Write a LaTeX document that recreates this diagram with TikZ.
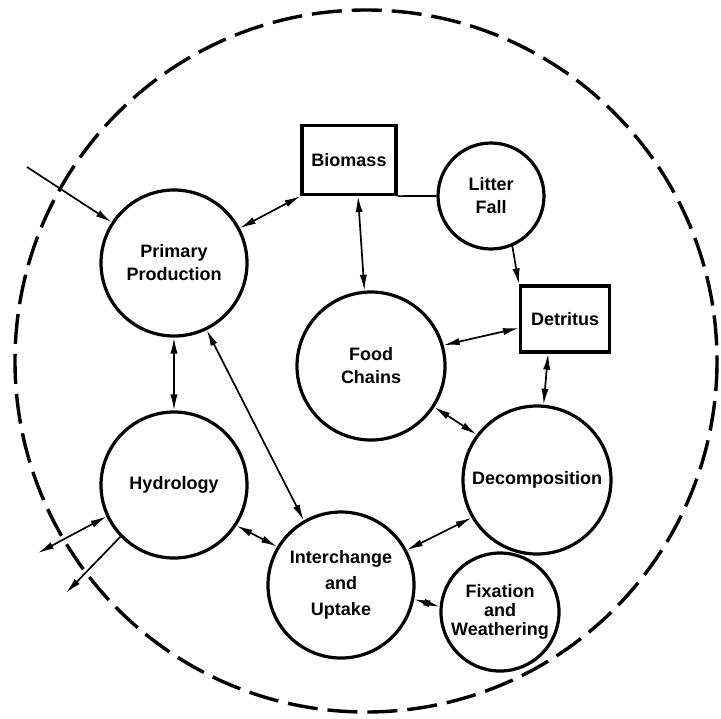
\documentclass[tikz,border=0pt]{standalone}
\usepackage{fontspec}
\setmainfont{Liberation Sans}
\usepackage{tikz}
\usetikzlibrary{arrows}
\usetikzlibrary{arrows.meta}
\usetikzlibrary{shapes}
\tikzset{>={Latex[length=8pt,width=3.6pt]}}
\tikzstyle{proc} = [circle, draw=black, line width=1.6pt, inner sep=0, align=center, font=\fontsize{9}{11.5}\selectfont\bfseries]
\tikzstyle{store} = [rectangle, draw=black, line width=1.6pt, inner sep=0, align=center, font=\fontsize{9}{11.5}\selectfont\bfseries]
\tikzstyle{flow} = [line width=0.85pt]

\begin{document}
\begin{tikzpicture}[x=0.5pt, y=-0.5pt]
\useasboundingbox (0,0) rectangle (721,718);
\draw [line width=1.7pt, dash pattern=on 15pt off 5pt] (366,361) circle [radius=351];
\node [proc, minimum size=73pt] (PP) at (174,263) {Primary\\Production};
\node [store, minimum width=47pt, minimum height=34.5pt] (B) at (349,160) {Biomass};
\node [proc, minimum size=53pt] (LF) at (491,196) {Litter\\Fall};
\node [store, minimum width=44.5pt, minimum height=33pt] (Det) at (565,319) {Detritus};
\node [proc, minimum size=74pt] (FC) at (371,366) {Food\\Chains};
\node [proc, minimum size=74pt] (Dec) at (537,480) {Decomposition};
\node [proc, minimum size=73pt] (Hyd) at (174,485) {Hydrology};
\node [proc, minimum size=73pt, font=\fontsize{9}{13}\selectfont\bfseries] (IU) at (341,585) {Interchange\\and\\Uptake};
\node [proc, minimum size=59pt, font=\fontsize{9}{9.5}\selectfont\bfseries] (FW) at (500,612) {Fixation\\and\\Weathering};
\coordinate (in) at (27,167);
\coordinate (out1) at (38,553);
\coordinate (out2) at (66,593);
\draw [flow, ->] (in) -- (PP);
\draw [flow, <->] (PP) -- (B.south west);
\draw [flow] (B.south east) -- (LF);
\draw [flow, <->] (B.-76) -- (FC.95);
\draw [flow, ->] (LF.-67) -- (Det.north west);
\draw [flow, <->] (Det.-169) -- (FC.16);
\draw [flow, <->] (Det.-116) -- (Dec.85);
\draw [flow, <->] (FC.-33) -- (Dec.143);
\draw [flow, <->] (Dec.-150) -- (IU.28);
\draw [flow, <->] (IU.-11) -- (FW.175);
\draw [flow, <->] (Hyd.-33) -- (IU.149);
\draw [flow, <->] (PP.south) -- (Hyd.north);
\draw [flow, <->] (PP.-64) -- (IU.120);
\draw [flow, <->] (Hyd.-155) -- (out1);
\draw [flow, ->] (Hyd.-136) -- (out2);
\end{tikzpicture}
\end{document}
